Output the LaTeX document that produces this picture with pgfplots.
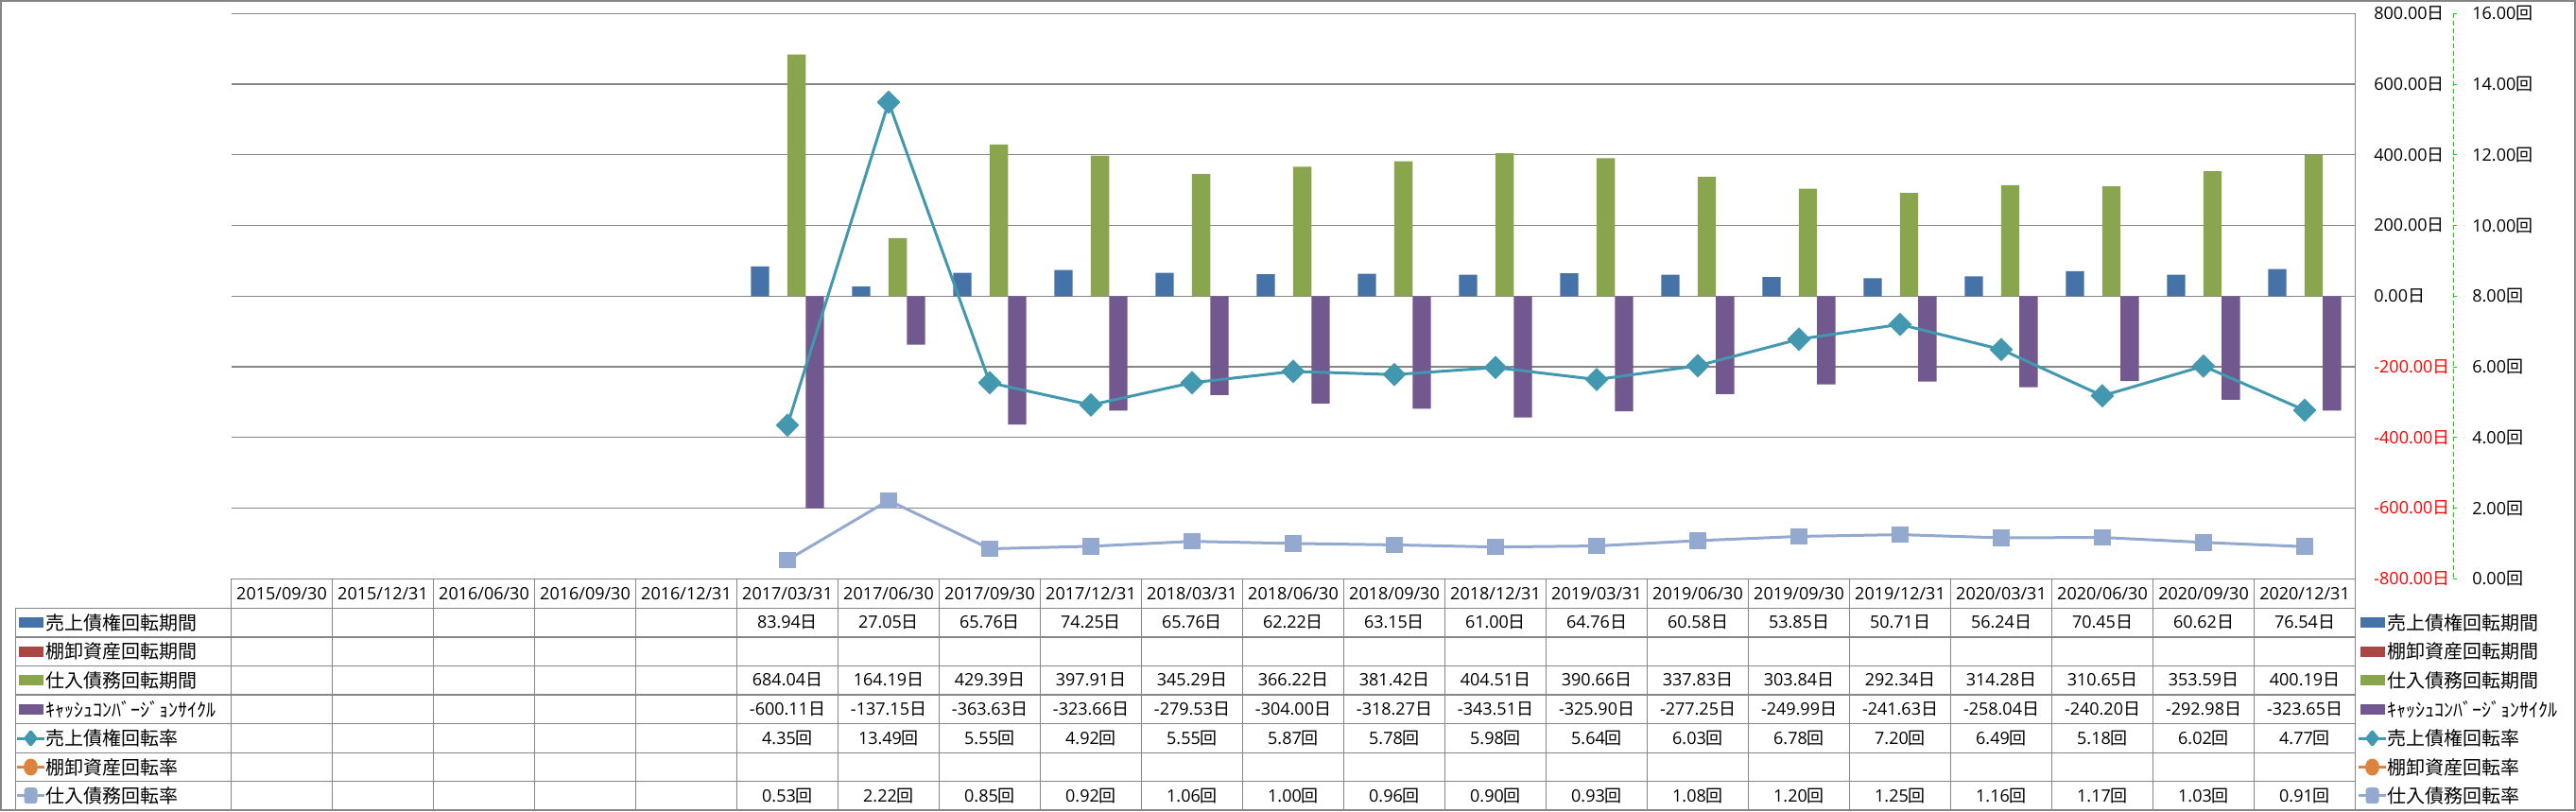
\documentclass[border=0pt]{standalone}
\usepackage{pgfplots}
\pgfplotsset{compat=1.18}
\usepackage{pgfplotstable}
\usepackage{fontspec}
\setmainfont{Open Sans}
\newfontfamily\jp{Noto Sans CJK JP}
\newcommand{\nichi}{{\jp 日}}
\newcommand{\kai}{{\jp 回}}

\definecolor{cBlue}{HTML}{4572A7}
\definecolor{cRed}{HTML}{AA4643}
\definecolor{cGreen}{HTML}{89A54E}
\definecolor{cPurple}{HTML}{71588F}
\definecolor{cTeal}{HTML}{4198AF}
\definecolor{cOrange}{HTML}{DB843D}
\definecolor{cLight}{HTML}{93A9CF}
\definecolor{cGrid}{HTML}{868686}
\definecolor{cAxisGreen}{HTML}{00E000}

\pgfplotstableread{
x ar ap ccc art apt
5 83.94 684.04 -600.11 4.35 0.53
6 27.05 164.19 -137.15 13.49 2.22
7 65.76 429.39 -363.63 5.55 0.85
8 74.25 397.91 -323.66 4.92 0.92
9 65.76 345.29 -279.53 5.55 1.06
10 62.22 366.22 -304.00 5.87 1.00
11 63.15 381.42 -318.27 5.78 0.96
12 61.00 404.51 -343.51 5.98 0.90
13 64.76 390.66 -325.90 5.64 0.93
14 60.58 337.83 -277.25 6.03 1.08
15 53.85 303.84 -249.99 6.78 1.20
16 50.71 292.34 -241.63 7.20 1.25
17 56.24 314.28 -258.04 6.49 1.16
18 70.45 310.65 -240.20 5.18 1.17
19 60.62 353.59 -292.98 6.02 1.03
20 76.54 400.19 -323.65 4.77 0.91
}\data

\newcommand{\numfont}{\fontsize{9}{10}\selectfont}
\newcommand{\jpfont}{\jp\fontsize{10}{11}\selectfont}
\newcommand{\pn}[1]{\pgfmathprintnumber[fixed,fixed zerofill,precision=2,assume math mode=true]{#1}}

\begin{document}
\begin{tikzpicture}
\useasboundingbox (0,0) rectangle (1362.5pt,429pt);

% primary axis: bars (days)
\begin{axis}[
  at={(122.25pt,122.85pt)}, anchor=south west,
  width=1123.5pt, height=299pt, scale only axis,
  xmin=-0.5, xmax=20.5, ymin=-800, ymax=800,
  axis x line=none,
  axis y line*=right,
  y axis line style={draw=cGrid, line width=0.6pt, -},
  ytick={-800,-600,-400,-200,0,200,400,600,800},
  yticklabels={\textcolor{red}{-800.00\nichi},\textcolor{red}{-600.00\nichi},\textcolor{red}{-400.00\nichi},\textcolor{red}{-200.00\nichi},0.00\nichi,200.00\nichi,400.00\nichi,600.00\nichi,800.00\nichi},
  major tick length=0pt,
  ymajorgrids, grid style={cGrid, line width=0.6pt},
  yticklabel style={anchor=west, inner sep=0pt, xshift=9.75pt, font=\numfont},
  ybar, bar width=0.18,
  clip=false,
]
\addplot[fill=cBlue, draw=none, bar shift=-0.27] table[x=x,y=ar]{\data};
\addplot[fill=cGreen, draw=none, bar shift=0.09] table[x=x,y=ap]{\data};
\addplot[fill=cPurple, draw=none, bar shift=0.27] table[x=x,y=ccc]{\data};
\end{axis}

% secondary axis: turnover ratios (times)
\begin{axis}[
  at={(122.25pt,122.85pt)}, anchor=south west,
  width=1123.5pt, height=299pt, scale only axis,
  xmin=-0.5, xmax=20.5, ymin=0, ymax=16,
  axis x line=none,
  axis y line*=right,
  y axis line style={draw=none},
  major tick length=0pt,
  ytick={0,2,4,6,8,10,12,14,16},
  yticklabels={0.00\kai,2.00\kai,4.00\kai,6.00\kai,8.00\kai,10.00\kai,12.00\kai,14.00\kai,16.00\kai},
  yticklabel style={anchor=west, inner sep=0pt, xshift=61.75pt, font=\numfont},
  clip=false,
]
\addplot[cTeal, line width=1.5pt, mark=square*, mark size=4.1pt,
  mark options={rotate=45, fill=cTeal, draw=cTeal, line width=0.6pt, rounded corners=1pt}]
  table[x=x,y=art]{\data};
\addplot[cLight, line width=1.5pt, mark=square*, mark size=4.1pt,
  mark options={fill=cLight, draw=cLight, line width=0.6pt, rounded corners=1.5pt}]
  table[x=x,y=apt]{\data};
\end{axis}

\begin{scope}[x=0.5pt,y=-0.5pt,yshift=429pt]
  % outer border
  \draw[cGrid, line width=0.9pt] (1,1) rectangle (2724,857);
  % secondary axis line (green dashed) and ticks
  \draw[cAxisGreen, line width=0.5pt, dash pattern=on 2.5pt off 1.5pt] (2595,14.3) -- (2595,612.3);
  \foreach \t in {0,...,8} \draw[cAxisGreen, line width=0.5pt] (2595,14.3+\t*74.75) -- (2599,14.3+\t*74.75);
  % table grid
  \begin{scope}[cGrid, line width=0.6pt]
    \draw (244.5,612.3) -- (2491.5,612.3);
    \foreach \yy in {643.3,674,704.3,735,765.7,796.3,826.7,856.7}
      \draw (16.7,\yy) -- (2491.5,\yy);
    \draw (16.7,643.3) -- (16.7,856.7);
    \foreach \k in {0,...,21}
      \draw (244.5+\k*107,612.3) -- (244.5+\k*107,856.7);
  \end{scope}
  % header dates
  \foreach \d [count=\k from 0] in {2015/09/30,2015/12/31,2016/06/30,2016/09/30,2016/12/31,2017/03/31,2017/06/30,2017/09/30,2017/12/31,2018/03/31,2018/06/30,2018/09/30,2018/12/31,2019/03/31,2019/06/30,2019/09/30,2019/12/31,2020/03/31,2020/06/30,2020/09/30,2020/12/31}
    \node[font=\numfont, inner sep=0pt] at (244.5+\k*107+53.5,628) {\d};
  % table values
  \foreach \i in {0,...,15}{
    \pgfmathsetmacro\cx{244.5+(\i+5.5)*107}
    \pgfplotstablegetelem{\i}{ar}\of\data
    \node[font=\numfont, inner sep=0pt] at (\cx,658.6) {\pn{\pgfplotsretval}\nichi};
    \pgfplotstablegetelem{\i}{ap}\of\data
    \node[font=\numfont, inner sep=0pt] at (\cx,719.6) {\pn{\pgfplotsretval}\nichi};
    \pgfplotstablegetelem{\i}{ccc}\of\data
    \node[font=\numfont, inner sep=0pt] at (\cx,750.3) {\pn{\pgfplotsretval}\nichi};
    \pgfplotstablegetelem{\i}{art}\of\data
    \node[font=\numfont, inner sep=0pt] at (\cx,781) {\pn{\pgfplotsretval}\kai};
    \pgfplotstablegetelem{\i}{apt}\of\data
    \node[font=\numfont, inner sep=0pt] at (\cx,841.7) {\pn{\pgfplotsretval}\kai};
  }
  % legend keys: in table (offset 0) and at right (offset 2477)
  \foreach \ox in {0,2477}{
    \begin{scope}[xshift=\ox*0.5pt]
      \fill[cBlue]   (20,653.1) rectangle (46,664.1);
      \fill[cRed]    (20,683.6) rectangle (46,694.6);
      \fill[cGreen]  (20,714.1) rectangle (46,725.1);
      \fill[cPurple] (20,744.8) rectangle (46,755.8);
      \draw[cTeal, line width=1.5pt] (18,781) -- (47,781);
      \fill[cTeal, rounded corners=0.8pt] (32.5,771.5) -- (40,781) -- (32.5,790.5) -- (25,781) -- cycle;
      \draw[cOrange, line width=1.5pt] (18,811.5) -- (47,811.5);
      \fill[cOrange] (32.5,811.5) ellipse (7.5 and 9);
      \draw[cLight, line width=1.5pt] (18,841.7) -- (47,841.7);
      \fill[cLight, rounded corners=1.5pt] (25.5,833.2) rectangle (39.5,850.2);
      \node[font=\jpfont, anchor=west, inner sep=0pt] at (48,658.6) {売上債権回転期間};
      \node[font=\jpfont, anchor=west, inner sep=0pt] at (48,689.1) {棚卸資産回転期間};
      \node[font=\jpfont, anchor=west, inner sep=0pt] at (48,719.6) {仕入債務回転期間};
      \node[font=\jpfont, anchor=west, inner sep=0pt] at (48,750.3) {ｷｬｯｼｭｺﾝﾊﾞｰｼﾞｮﾝｻｲｸﾙ};
      \node[font=\jpfont, anchor=west, inner sep=0pt] at (48,781) {売上債権回転率};
      \node[font=\jpfont, anchor=west, inner sep=0pt] at (48,811.5) {棚卸資産回転率};
      \node[font=\jpfont, anchor=west, inner sep=0pt] at (48,841.7) {仕入債務回転率};
    \end{scope}
  }
\end{scope}
\end{tikzpicture}
\end{document}
